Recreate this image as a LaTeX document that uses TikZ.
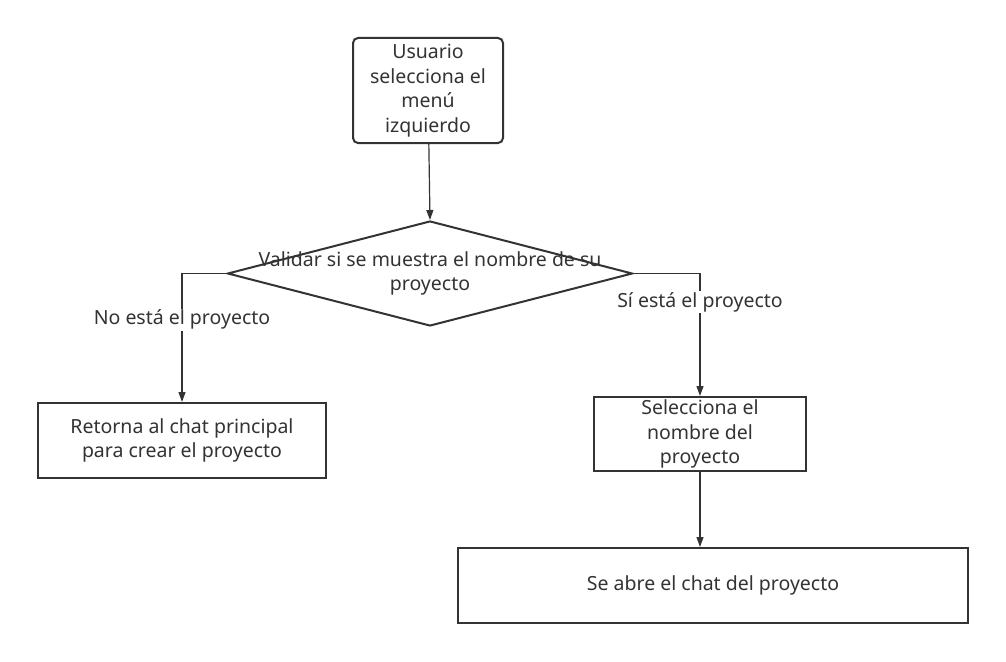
\documentclass[tikz,border=0pt]{standalone}
\usepackage{fontspec}
\setmainfont{Noto Sans}
\usepackage{tikz}
\definecolor{linegray}{RGB}{51, 51, 51}
\usetikzlibrary{shapes.geometric, arrows.meta, positioning}

\begin{document}
\begin{tikzpicture}[
    x=1pt, y=-1pt,
    box/.style={draw=linegray, line width=2pt, fill=white, text=linegray,
                font=\fontsize{19.5}{24.5}\selectfont, align=center, inner sep=0pt},
    decision/.style={diamond, draw=linegray, line width=2pt, inner sep=0pt,
                minimum width=405pt, minimum height=105pt},
    arrow/.style={-{Triangle[length=10pt, width=7pt]}, draw=linegray, line width=1.2pt},
    tag/.style={fill=white, text=linegray, font=\fontsize{19.5}{24.5}\selectfont, inner sep=1pt}
]
    \useasboundingbox (0,0) rectangle (1006,661);

    % Nodes
    \node[box, rounded corners=5pt, minimum width=150pt, minimum height=105pt] (usuario) at (428,90.5)
        {Usuario\\selecciona el\\men\'u\\izquierdo};
    \node[decision] (valida) at (430,273.5) {};
    \node[text=linegray, font=\fontsize{19.5}{24.5}\selectfont, align=center] (validatxt) at (valida.center)
        {Validar si se muestra el nombre de su\\proyecto};
    \node[box, minimum width=288pt, minimum height=75pt] (retorna) at (182,440.5)
        {Retorna al chat principal\\para crear el proyecto};
    \node[box, minimum width=212pt, minimum height=74pt] (selecciona) at (700,434)
        {Selecciona el\\nombre del\\proyecto};
    \node[box, minimum width=510pt, minimum height=75pt] (abre) at (713,585.5)
        {Se abre el chat del proyecto};

    % Arrows
    \draw[arrow] (usuario) -- (valida.north);
    \draw[arrow] (valida.west) -| node[tag, pos=0.68] {No est\'a el proyecto} (retorna.north);
    \draw[arrow] (valida.east) -| node[tag, pos=0.617] {S\'i est\'a el proyecto} (selecciona.north);
    \draw[arrow] (selecciona.south) -- (selecciona.south |- abre.north);
\end{tikzpicture}
\end{document}
